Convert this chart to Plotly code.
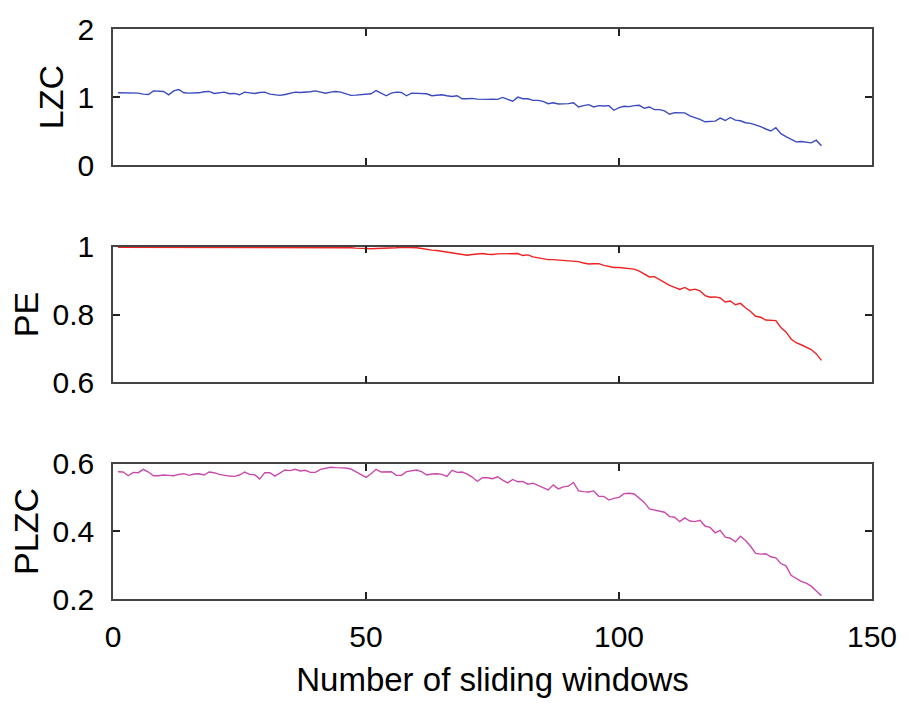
import plotly.graph_objects as go
from plotly.subplots import make_subplots

# Sliding-window index
windows = list(range(1, 141))

lzc = [
    1.063, 1.063, 1.063, 1.068, 1.058, 1.044, 1.039, 1.092, 1.087, 1.083,
    1.034, 1.092, 1.112, 1.063, 1.058, 1.058, 1.063, 1.078, 1.083, 1.054,
    1.063, 1.073, 1.049, 1.054, 1.034, 1.073, 1.063, 1.054, 1.068, 1.073,
    1.044, 1.039, 1.025, 1.039, 1.054, 1.073, 1.068, 1.068, 1.078, 1.092,
    1.078, 1.058, 1.073, 1.083, 1.073, 1.044, 1.025, 1.029, 1.039, 1.044,
    1.049, 1.097, 1.054, 1.020, 1.058, 1.073, 1.068, 1.020, 1.058, 1.054,
    1.044, 1.049, 1.020, 1.029, 1.034, 1.020, 1.010, 1.020, 0.976, 0.976,
    0.981, 0.971, 0.967, 0.967, 0.971, 0.967, 0.996, 0.967, 0.940, 1.000,
    0.976, 0.976, 0.952, 0.952, 0.938, 0.904, 0.918, 0.899, 0.899, 0.904,
    0.918, 0.855, 0.875, 0.889, 0.855, 0.875, 0.870, 0.875, 0.807, 0.846,
    0.865, 0.860, 0.875, 0.880, 0.836, 0.855, 0.817, 0.817, 0.798, 0.749,
    0.773, 0.773, 0.769, 0.725, 0.701, 0.672, 0.638, 0.648, 0.648, 0.691,
    0.657, 0.701, 0.662, 0.653, 0.624, 0.614, 0.595, 0.566, 0.532, 0.503,
    0.551, 0.464, 0.421, 0.377, 0.343, 0.348, 0.339, 0.329, 0.368, 0.285,
]

pe = [
    0.998, 0.998, 0.997, 0.998, 0.998, 0.999, 0.998, 0.999, 0.999, 0.998,
    0.998, 0.997, 0.998, 0.998, 0.999, 0.999, 0.998, 0.998, 0.998, 0.999,
    0.999, 0.998, 0.998, 0.997, 0.998, 0.998, 0.999, 0.998, 0.998, 0.998,
    0.999, 0.999, 0.998, 0.998, 0.997, 0.998, 0.998, 0.999, 0.999, 0.998,
    0.998, 0.998, 0.999, 0.998, 0.998, 0.997, 0.997, 0.996, 0.995, 0.993,
    0.994, 0.995, 0.995, 0.996, 0.997, 0.997, 0.998, 0.998, 0.998, 0.997,
    0.995, 0.992, 0.990, 0.989, 0.987, 0.985, 0.983, 0.980, 0.978, 0.975,
    0.977, 0.978, 0.980, 0.978, 0.977, 0.979, 0.979, 0.979, 0.979, 0.980,
    0.974, 0.976, 0.970, 0.967, 0.964, 0.962, 0.962, 0.961, 0.961, 0.960,
    0.959, 0.956, 0.952, 0.949, 0.950, 0.950, 0.945, 0.942, 0.939, 0.939,
    0.938, 0.937, 0.934, 0.928, 0.920, 0.911, 0.912, 0.903, 0.896, 0.886,
    0.880, 0.874, 0.880, 0.872, 0.875, 0.870, 0.856, 0.851, 0.852, 0.849,
    0.837, 0.840, 0.829, 0.833, 0.820, 0.809, 0.795, 0.792, 0.784, 0.784,
    0.782, 0.762, 0.749, 0.728, 0.717, 0.711, 0.704, 0.697, 0.684, 0.665,
]

plzc = [
    0.577, 0.576, 0.565, 0.575, 0.574, 0.584, 0.576, 0.565, 0.565, 0.567,
    0.566, 0.565, 0.569, 0.571, 0.566, 0.570, 0.571, 0.567, 0.576, 0.574,
    0.569, 0.566, 0.564, 0.563, 0.567, 0.576, 0.569, 0.568, 0.555, 0.574,
    0.574, 0.564, 0.574, 0.582, 0.580, 0.584, 0.579, 0.581, 0.575, 0.575,
    0.584, 0.586, 0.590, 0.589, 0.589, 0.588, 0.585, 0.576, 0.568, 0.560,
    0.571, 0.584, 0.576, 0.577, 0.577, 0.566, 0.566, 0.577, 0.580, 0.582,
    0.577, 0.567, 0.570, 0.571, 0.569, 0.563, 0.581, 0.575, 0.576, 0.570,
    0.561, 0.548, 0.559, 0.559, 0.556, 0.562, 0.552, 0.544, 0.554, 0.547,
    0.548, 0.540, 0.543, 0.536, 0.531, 0.523, 0.538, 0.526, 0.532, 0.534,
    0.545, 0.520, 0.518, 0.517, 0.520, 0.504, 0.504, 0.493, 0.498, 0.501,
    0.512, 0.513, 0.511, 0.497, 0.486, 0.467, 0.463, 0.461, 0.457, 0.444,
    0.442, 0.429, 0.440, 0.431, 0.429, 0.433, 0.416, 0.412, 0.396, 0.403,
    0.383, 0.380, 0.369, 0.386, 0.373, 0.356, 0.335, 0.333, 0.334, 0.325,
    0.322, 0.305, 0.298, 0.270, 0.260, 0.252, 0.247, 0.238, 0.224, 0.210,
]

panel_names = ["LZC", "PE", "PLZC"]
y_ranges = [[0, 2], [0.6, 1.0], [0.2, 0.6]]
y_tickvals = [[0, 1, 2], [0.6, 0.8, 1.0], [0.2, 0.4, 0.6]]
y_ticktext = [["0", "1", "2"], ["0.6", "0.8", "1"], ["0.2", "0.4", "0.6"]]
x_ticks = [0, 50, 100, 150]
series = [lzc, pe, plzc]
colors = ["#3b4bbd", "#ee2222", "#c94aac"]
x_title = "Number of sliding windows"

FONT = "Liberation Sans, Arial, sans-serif"

fig = make_subplots(rows=3, cols=1, shared_xaxes=False)

for i, (vals, col) in enumerate(zip(series, colors), start=1):
    fig.add_trace(
        go.Scatter(x=windows, y=vals, mode="lines",
                   line=dict(color=col, width=1.4), showlegend=False),
        row=i, col=1,
    )

domains = [[0.761, 1.0], [0.380, 0.618], [0.0, 0.237]]
axis_style = dict(
    showline=True, linecolor="#444444", linewidth=1.5, mirror="ticks",
    ticks="inside", ticklen=7, tickwidth=1.5, tickcolor="#222222",
    showgrid=False, zeroline=False,
    tickfont=dict(family=FONT, size=30, color="black"),
)

for i in range(3):
    r = i + 1
    fig.update_xaxes(
        range=[0, 150], tickvals=x_ticks, showticklabels=(r == 3),
        ticklabelstandoff=10, **axis_style, row=r, col=1,
    )
    fig.update_yaxes(
        range=y_ranges[i], tickvals=y_tickvals[i], ticktext=y_ticktext[i],
        domain=domains[i], ticklabelstandoff=11,
        title=dict(text=panel_names[i], standoff=4,
                   font=dict(family=FONT, size=34, color="black")),
        **axis_style, row=r, col=1,
    )

fig.update_xaxes(
    title=dict(text=x_title, standoff=16,
               font=dict(family=FONT, size=33, color="black")),
    row=3, col=1,
)

fig.update_layout(
    width=909, height=704,
    margin=dict(l=113, r=29, t=23, b=104),
    paper_bgcolor="white", plot_bgcolor="white",
)

fig.write_html("out.html")
